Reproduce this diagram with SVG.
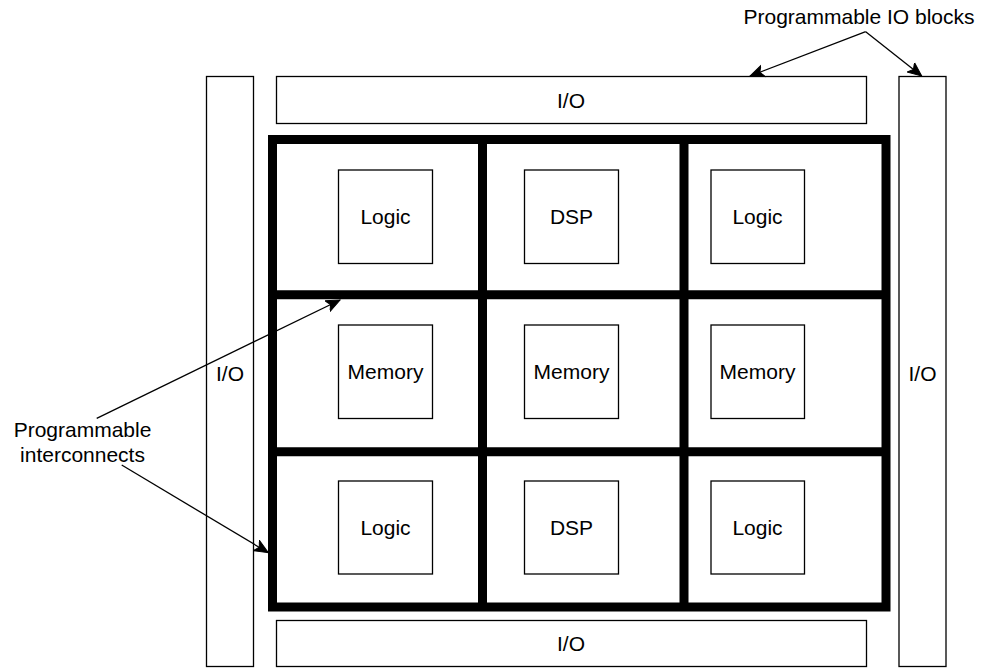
<svg xmlns="http://www.w3.org/2000/svg" width="982" height="668" viewBox="0 0 982 668">
<style>
.box{fill:#fff;stroke:#000;stroke-width:1.3}
.grid{fill:none;stroke:#000;stroke-width:9}
.t{font-family:"Liberation Sans",Arial,sans-serif;font-size:21px;fill:#000;text-anchor:middle}
.c{fill:none;stroke:#000;stroke-width:1.3}
</style>
<defs>
<marker id="ah" markerUnits="userSpaceOnUse" markerWidth="16" markerHeight="14" refX="14" refY="6" orient="auto" viewBox="0 0 16 12">
<path d="M0,0 L14,6 L0,12 L3.5,6 z" fill="#000" stroke="#000" stroke-width="1"/>
</marker>
</defs>
<rect width="982" height="668" fill="#fff"/>
<g id="io-left"><rect class="box" x="206.5" y="76.5" width="47" height="590"/><text class="t" x="230" y="381">I/O</text></g>
<g id="io-right"><rect class="box" x="899" y="76.5" width="47" height="590"/><text class="t" x="922.5" y="381">I/O</text></g>
<g id="io-top"><rect class="box" x="276.5" y="76.5" width="590" height="47"/><text class="t" x="571" y="107.5">I/O</text></g>
<g id="io-bottom"><rect class="box" x="276.5" y="620.5" width="590" height="46"/><text class="t" x="571" y="651">I/O</text></g>
<g id="fabric">
<rect class="grid" x="272.5" y="139.5" width="613.5" height="467.5"/>
<line class="grid" x1="482.5" y1="139.5" x2="482.5" y2="607"/>
<line class="grid" x1="684" y1="139.5" x2="684" y2="607"/>
<line class="grid" x1="272.5" y1="294.7" x2="886" y2="294.7"/>
<line class="grid" x1="272.5" y1="451.7" x2="886" y2="451.7"/>
</g>
<g id="logic-1"><rect class="box" x="338.5" y="170" width="94" height="93.5"/><text class="t" x="385.5" y="224">Logic</text></g>
<g id="dsp-1"><rect class="box" x="524.5" y="170" width="94" height="93.5"/><text class="t" x="571.5" y="224">DSP</text></g>
<g id="logic-2"><rect class="box" x="711" y="170" width="93.5" height="93.5"/><text class="t" x="757.5" y="224">Logic</text></g>
<g id="memory-1"><rect class="box" x="338.5" y="325" width="94" height="93.5"/><text class="t" x="385.5" y="379">Memory</text></g>
<g id="memory-2"><rect class="box" x="524.5" y="325" width="94" height="93.5"/><text class="t" x="571.5" y="379">Memory</text></g>
<g id="memory-3"><rect class="box" x="711" y="325" width="93.5" height="93.5"/><text class="t" x="757.5" y="379">Memory</text></g>
<g id="logic-3"><rect class="box" x="338.5" y="481" width="94" height="93"/><text class="t" x="385.5" y="535">Logic</text></g>
<g id="dsp-2"><rect class="box" x="524.5" y="481" width="94" height="93"/><text class="t" x="571.5" y="535">DSP</text></g>
<g id="logic-4"><rect class="box" x="711" y="481" width="93.5" height="93"/><text class="t" x="757.5" y="535">Logic</text></g>
<g id="label-io"><text class="t" x="859" y="23.5">Programmable IO blocks</text></g>
<g id="label-ic"><text class="t" x="82.5" y="436.5">Programmable</text><text class="t" x="82.5" y="461.5">interconnects</text></g>
<g id="connectors">
<path class="c" d="M865.7,31.7 L750,76" marker-end="url(#ah)"/>
<path class="c" d="M865.7,31.7 L921.7,76" marker-end="url(#ah)"/>
<path class="c" d="M96.7,418.3 L340,300" marker-end="url(#ah)"/>
<path class="c" d="M121.7,465 L268.3,552.7" marker-end="url(#ah)"/>
</g>
</svg>
